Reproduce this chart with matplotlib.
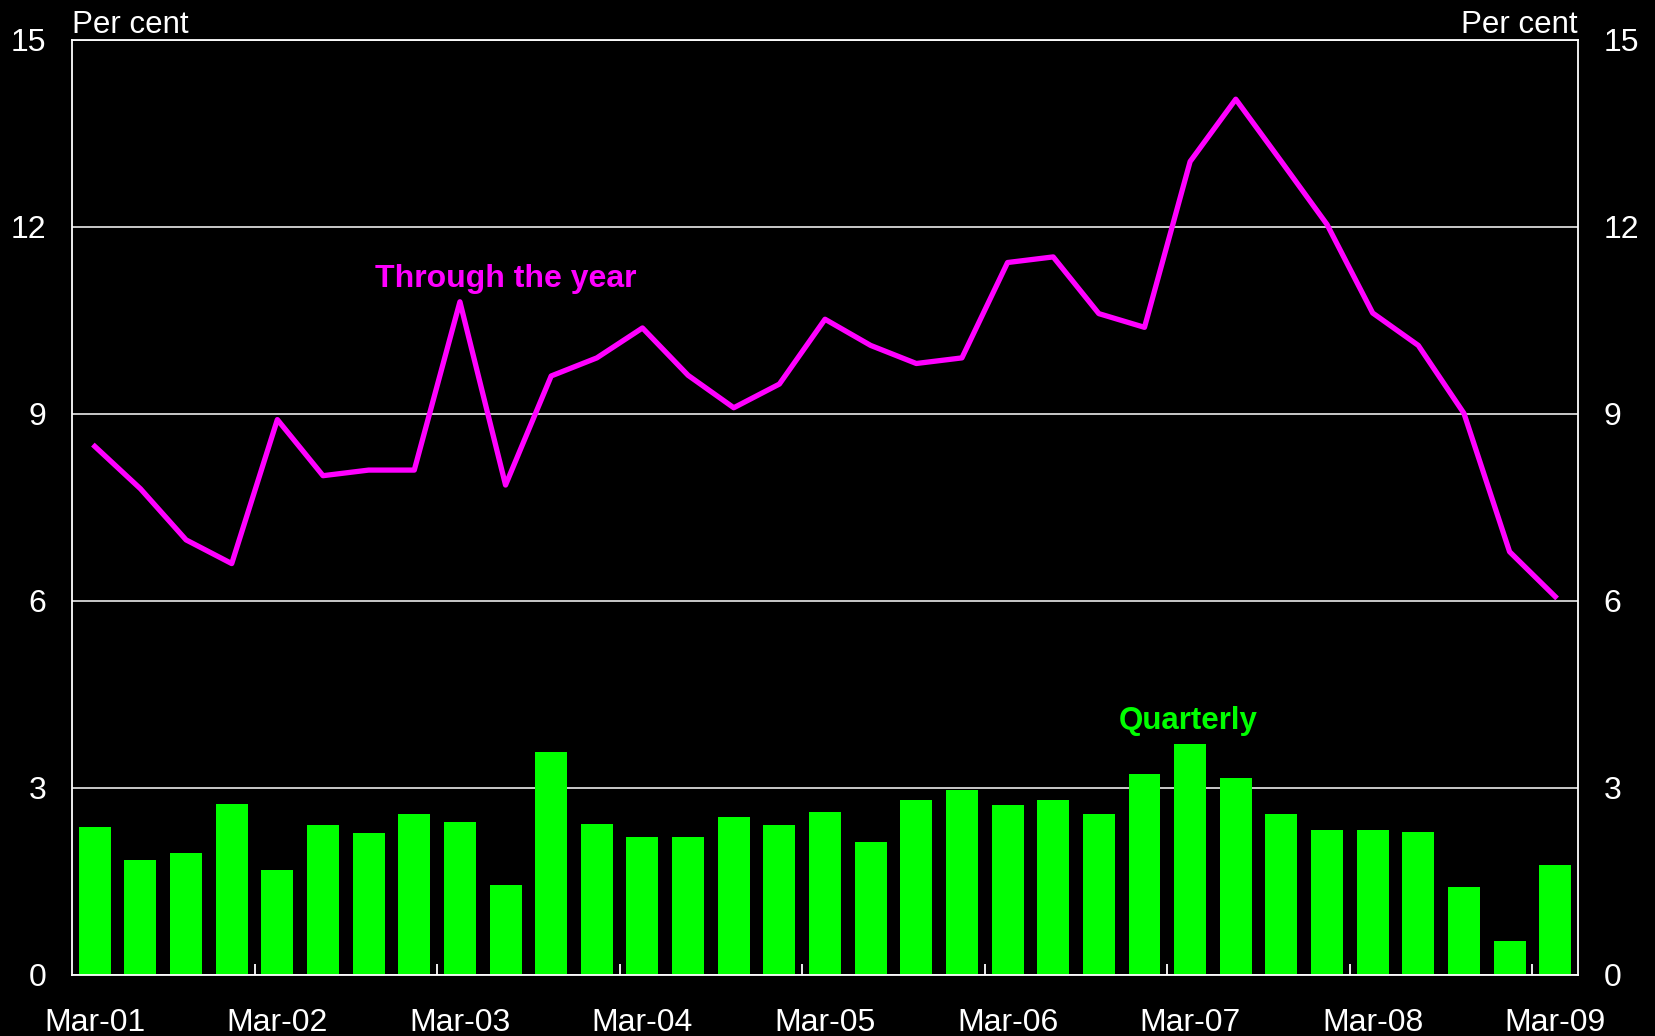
import numpy as np
import matplotlib
matplotlib.use("Agg")
import matplotlib.pyplot as plt

plt.rcParams['font.family'] = ['Liberation Sans', 'DejaVu Sans']

# quarterly data, Mar-01 to Mar-09
quarters = ['Mar-01', 'Jun-01', 'Sep-01', 'Dec-01',
            'Mar-02', 'Jun-02', 'Sep-02', 'Dec-02',
            'Mar-03', 'Jun-03', 'Sep-03', 'Dec-03',
            'Mar-04', 'Jun-04', 'Sep-04', 'Dec-04',
            'Mar-05', 'Jun-05', 'Sep-05', 'Dec-05',
            'Mar-06', 'Jun-06', 'Sep-06', 'Dec-06',
            'Mar-07', 'Jun-07', 'Sep-07', 'Dec-07',
            'Mar-08', 'Jun-08', 'Sep-08', 'Dec-08',
            'Mar-09']

quarterly = [2.37, 1.85, 1.95, 2.75, 1.69, 2.40, 2.27, 2.59,
             2.46, 1.44, 3.58, 2.43, 2.21, 2.21, 2.53, 2.40,
             2.62, 2.14, 2.81, 2.97, 2.72, 2.81, 2.59, 3.23,
             3.71, 3.16, 2.59, 2.33, 2.33, 2.30, 1.41, 0.54,
             1.76]

through_year = [8.48, 7.80, 6.98, 6.60, 8.91, 8.01, 8.10, 8.10,
                10.80, 7.86, 9.61, 9.90, 10.38, 9.62, 9.10, 9.48,
                10.52, 10.10, 9.81, 9.90, 11.43, 11.52, 10.61, 10.39,
                13.05, 14.05, 13.05, 12.04, 10.62, 10.10, 9.01, 6.79,
                6.07]

yticks = [0, 3, 6, 9, 12, 15]

magenta = '#FF00FF'
green = '#00FF00'

x = np.arange(len(quarters))

fig = plt.figure(figsize=(16.55, 10.36), dpi=100, facecolor='black')
ax = fig.add_axes([0.0435, 0.0589, 0.91, 0.9025])
ax.set_facecolor('black')

ax.bar(x, quarterly, width=0.7, color=green, zorder=2)
ax.plot(x, through_year, color=magenta, lw=3.8, zorder=3)

ax.set_xlim(-0.5, len(quarters) - 0.5)
ax.set_ylim(0, 15)

# gridlines
ax.set_yticks(yticks)
ax.grid(axis='y', color='white', lw=1.1, zorder=1)
ax.set_axisbelow(True)

ax.tick_params(axis='y', which='both', left=False, right=False,
               labelleft=True, labelright=True, colors='white',
               labelsize=23, pad=15)

# year ticks between Dec and Mar, labels under Mar
ax.set_xticks(np.arange(3.5, len(quarters) - 1, 4))
ax.set_xticklabels([])
ax.tick_params(axis='x', which='major', direction='in', length=8,
               width=1.3, color='white')
ax.set_xticks(x[::4], minor=True)
ax.set_xticklabels(quarters[::4], minor=True)
ax.tick_params(axis='x', which='minor', length=0, labelsize=23,
               labelcolor='white', pad=24)

for s in ax.spines.values():
    s.set_color('white')
    s.set_linewidth(1.3)

ax.text(0.0, 1.0, 'Per cent', transform=ax.transAxes, color='white',
        fontsize=22.5, ha='left', va='bottom')
ax.text(1.0, 1.0, 'Per cent', transform=ax.transAxes, color='white',
        fontsize=22.5, ha='right', va='bottom')

ax.text(9.0, 11.17, 'Through the year', color=magenta, fontsize=23,
        fontweight='bold', ha='center', va='center')
ax.text(23.95, 4.07, 'Quarterly', color=green, fontsize=22.5,
        fontweight='bold', ha='center', va='center')

fig.savefig('out.png', dpi=100, facecolor='black')
